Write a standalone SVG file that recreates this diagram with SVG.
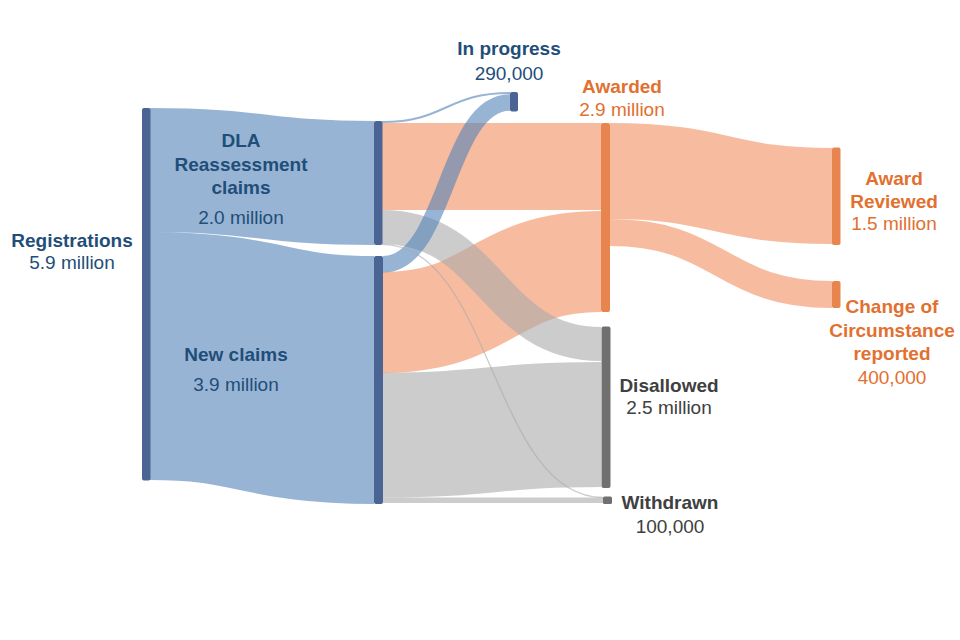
<svg xmlns="http://www.w3.org/2000/svg" width="960" height="640" viewBox="0 0 960 640">
<style>
  .lk { fill: none; stroke-opacity: 0.6; }
  .b { stroke: #5382b7; }
  .o { stroke: #f28e61; }
  .g { stroke: #aaaaaa; }
  .nb { fill: #4a6494; }
  .no { fill: #e8844e; }
  .ng { fill: #707070; }
  text { font-family: "Liberation Sans", Arial, sans-serif; font-size: 19px; text-anchor: middle; }
  .h { font-weight: bold; }
  .tb { fill: #1f4e79; }
  .to { fill: #e2702f; }
  .tg { fill: #404040; }
</style>
<rect width="960" height="640" fill="#ffffff"/>
<g id="connectors">
  <path class="lk b" stroke-width="124" d="M150,170 C262,170 262,183 374,183"/>
  <path class="lk b" stroke-width="248" d="M150,356 C262,356 262,380 374,380"/>
  <path class="lk o" stroke-width="87" d="M382,166.5 C491.5,166.5 491.5,166.5 601,166.5"/>
  <path class="lk o" stroke-width="101" d="M383,322.5 C492,322.5 492,261.5 601,261.5"/>
  <path class="lk o" stroke-width="96" d="M610,171 C721,171 721,196 832,196"/>
  <path class="lk o" stroke-width="27" d="M610,232.5 C721,232.5 721,294.5 832,294.5"/>
  <path class="lk g" stroke-width="34" d="M382,227 C491.5,227 491.5,344 601,344"/>
  <path class="lk g" stroke-width="125" d="M383,435 C492,435 492,424.5 601,424.5"/>
  <path class="lk g" stroke-width="5.5" d="M383,500.3 C493,500.3 493,500.3 603,500.3"/>
  <path class="lk b" stroke-width="16.5" d="M383,264.3 C446.5,264.3 446.5,102.5 510,102.5"/>
  <path class="lk b" stroke-width="2" d="M382,122 C446,122 446,93 510,93"/>
  <path class="lk g" stroke-width="1.3" d="M382,244.3 C492.5,244.3 492.5,497.5 603,497.5"/>
</g>
<g id="node-registrations">
  <rect class="nb" x="142" y="108" width="8.5" height="372.5" rx="2"/>
  <text class="h tb" x="72" y="247">Registrations</text>
  <text class="tb" x="72" y="269">5.9 million</text>
</g>
<g id="node-dla">
  <rect class="nb" x="374" y="121" width="8.5" height="124" rx="2"/>
  <text class="h tb" x="241" y="147">DLA</text>
  <text class="h tb" x="241" y="171">Reassessment</text>
  <text class="h tb" x="241" y="194">claims</text>
  <text class="tb" x="241" y="224">2.0 million</text>
</g>
<g id="node-new">
  <rect class="nb" x="374" y="256" width="9" height="248" rx="2"/>
  <text class="h tb" x="236" y="361">New claims</text>
  <text class="tb" x="236" y="391">3.9 million</text>
</g>
<g id="node-inprogress">
  <rect class="nb" x="510" y="92" width="8" height="19.5" rx="2"/>
  <text class="h tb" x="509" y="55">In progress</text>
  <text class="tb" x="509" y="80">290,000</text>
</g>
<g id="node-awarded">
  <rect class="no" x="601" y="123" width="9" height="189" rx="2"/>
  <text class="h to" x="622" y="93">Awarded</text>
  <text class="to" x="622" y="116">2.9 million</text>
</g>
<g id="node-disallowed">
  <rect class="ng" x="601.5" y="326.5" width="9" height="161.5" rx="2"/>
  <text class="h tg" x="669" y="392">Disallowed</text>
  <text class="tg" x="669" y="414">2.5 million</text>
</g>
<g id="node-withdrawn">
  <rect class="ng" x="603" y="496.5" width="9" height="7.5" rx="1.5"/>
  <text class="h tg" x="670" y="509">Withdrawn</text>
  <text class="tg" x="670" y="533">100,000</text>
</g>
<g id="node-reviewed">
  <rect class="no" x="832" y="147.5" width="8.5" height="97.5" rx="2"/>
  <text class="h to" x="894" y="185">Award</text>
  <text class="h to" x="894" y="208">Reviewed</text>
  <text class="to" x="894" y="230">1.5 million</text>
</g>
<g id="node-coc">
  <rect class="no" x="832" y="281" width="8.5" height="27" rx="2"/>
  <text class="h to" x="892" y="313">Change of</text>
  <text class="h to" x="892" y="337">Circumstance</text>
  <text class="h to" x="892" y="360">reported</text>
  <text class="to" x="892" y="384">400,000</text>
</g>
</svg>
